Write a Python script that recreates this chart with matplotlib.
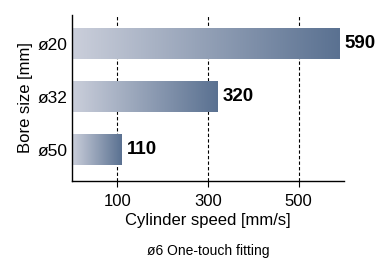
import matplotlib
matplotlib.use("Agg")
import matplotlib.pyplot as plt
import numpy as np
from matplotlib.colors import LinearSegmentedColormap

categories = ["ø50", "ø32", "ø20"]
speeds = [110, 320, 590]
xticks = [100, 300, 500]

plt.rcParams['font.family'] = ['Liberation Sans', 'DejaVu Sans']

fig = plt.figure(figsize=(3.83, 2.60), dpi=100)
ax = fig.add_axes([72/383, 1-181/260, (344-72)/383, (181-15)/260])

cmap = LinearSegmentedColormap.from_list("g", ["#cbcfdb", "#5a7191"])
ypos = np.arange(len(categories))
h = 0.585
bars = ax.barh(ypos, speeds, height=h, color="none", edgecolor="none", zorder=2)
grad = np.linspace(0, 1, 256).reshape(1, -1)
for b, v in zip(bars, speeds):
    y0 = b.get_y()
    ax.imshow(grad, cmap=cmap, extent=(0, v, y0, y0 + h), aspect='auto', zorder=2, interpolation='bicubic')
    ax.annotate(str(v), (v, y0 + h/2), xytext=(3.8, 0), textcoords='offset points',
                ha='left', va='center', fontsize=13.5, fontweight='bold', color='black')

ax.set_xlim(0, 600)
ax.set_ylim(-0.594, 2.54)
ax.set_xticks(xticks)
ax.set_xticklabels([str(t) for t in xticks], fontsize=12)
ax.set_yticks(ypos)
ax.set_yticklabels(categories, fontsize=12.5)
ax.tick_params(axis='y', length=0, pad=3.5)
ax.tick_params(axis='x', length=4, width=0.8, pad=5)
for t in xticks:
    ax.axvline(t, color='black', lw=0.8, ls=(0, (3, 2)), zorder=1)
for s in ['top', 'right']:
    ax.spines[s].set_visible(False)
ax.spines['left'].set_linewidth(1.0)
ax.spines['bottom'].set_linewidth(1.0)
ax.set_xlabel("Cylinder speed [mm/s]", fontsize=12, labelpad=3)
ax.set_ylabel("Bore size [mm]", fontsize=12, labelpad=3)
fig.text(208/383, 1-251/260, "ø6 One-touch fitting", ha='center', va='center', fontsize=10)

fig.savefig("out.png", dpi=100)
